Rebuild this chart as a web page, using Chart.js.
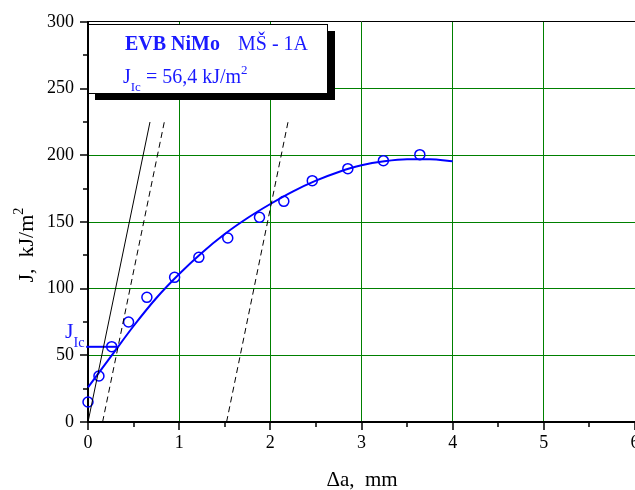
<!DOCTYPE html>
<html lang="sk">
<head>
    <meta charset="UTF-8">
    <title>J-R krivka</title>
    <script src="https://cdn.jsdelivr.net/npm/chart.js@4.4.1/dist/chart.umd.min.js"></script>
    <style>
        html, body {
            margin: 0;
            padding: 0;
            background: #fff;
        }

        .chart-container {
            width: 635px;
            height: 490px;
        }
    </style>
</head>
<body>
<div class="chart-container">
    <canvas id="canvas" width="635" height="490"></canvas>
</div>

<script>
    // meranie (body)
    var deltaA = [0, 0.12, 0.26, 0.445, 0.646, 0.95, 1.216, 1.533, 1.881, 2.148, 2.46, 2.85, 3.24, 3.64];
    var jValues = [15, 34.5, 56.5, 75, 93.5, 108.5, 123.5, 138, 153.5, 165.5, 181, 190, 196, 200.5];

    // preložená krivka
    var fitX = [0, 0.25, 0.5, 0.75, 1, 1.25, 1.5, 1.75, 2, 2.25, 2.5, 2.75, 3, 3.25, 3.5, 3.75, 4];
    var fitJ = [26, 49, 72, 93, 111, 127, 141, 153, 163.5, 173, 181, 187.5, 192.5, 195.5, 197, 197, 195.5];

    // blunting line a posunuté priamky
    var bluntX = [0, 0.68];
    var bluntJ = [0, 225];
    var offset1X = [0.16, 0.84];
    var offset1J = [0, 226];
    var offset2X = [1.52, 2.2];
    var offset2J = [0, 227];

    // J_Ic
    var jIcX = [-0.02, 0.31];
    var jIcJ = [56.4, 56.4];

    var xTicks = [0, 1, 2, 3, 4, 5, 6];
    var yTicks = [0, 50, 100, 150, 200, 250, 300];

    var BLUE = '#0000ff';
    var TEXT_BLUE = '#1a1aff';
    var GREEN = '#008000';
    var SERIF = '"Liberation Serif", "DejaVu Serif", serif';

    function pts(xs, ys) {
        return xs.map(function (x, i) {
            return {x: x, y: ys[i]};
        });
    }

    function lineSet(xs, ys, color, width, dash) {
        return {
            data: pts(xs, ys),
            showLine: true,
            borderColor: color,
            borderWidth: width,
            borderDash: dash || [],
            pointRadius: 0,
            fill: false,
            clip: false
        };
    }

    // text s indexom / exponentom
    function richText(ctx, parts, x, y, size, align) {
        var total = 0;
        parts.forEach(function (p) {
            var s = (p.sub || p.sup) ? size * 0.65 : size;
            ctx.font = (p.bold ? 'bold ' : '') + s + 'px ' + SERIF;
            p.w = ctx.measureText(p.t).width;
            total += p.w;
        });
        var cx = align === 'center' ? x - total / 2 : x;
        parts.forEach(function (p) {
            var s = (p.sub || p.sup) ? size * 0.65 : size;
            var dy = p.sub ? size * 0.42 : (p.sup ? -size * 0.45 : 0);
            ctx.font = (p.bold ? 'bold ' : '') + s + 'px ' + SERIF;
            ctx.fillText(p.t, cx, y + dy);
            cx += p.w;
        });
    }

    var extras = {
        id: 'extras',
        afterDraw: function (chart) {
            var ctx = chart.ctx;
            var xs = chart.scales.x, ys = chart.scales.y;
            var area = chart.chartArea;
            var v, p;
            ctx.save();

            // horny rám
            ctx.strokeStyle = '#000';
            ctx.lineWidth = 1;
            ctx.beginPath();
            ctx.moveTo(area.left, area.top - 0.5);
            ctx.lineTo(area.right, area.top - 0.5);
            ctx.stroke();

            // ryhy
            ctx.lineWidth = 1.5;
            ctx.beginPath();
            for (v = 0; v <= 300; v += 25) {
                p = Math.round(ys.getPixelForValue(v));
                ctx.moveTo(area.left, p);
                ctx.lineTo(area.left - (v % 50 === 0 ? 8 : 5), p);
            }
            for (v = 0; v <= 6; v += 0.5) {
                p = Math.round(xs.getPixelForValue(v));
                ctx.moveTo(p, area.bottom);
                ctx.lineTo(p, area.bottom + (v % 1 === 0 ? 8 : 5));
            }
            ctx.stroke();

            // legenda
            ctx.fillStyle = '#000';
            ctx.fillRect(95, 31, 240, 69);
            ctx.fillStyle = '#fff';
            ctx.fillRect(88, 24, 239, 69);
            ctx.strokeStyle = '#000';
            ctx.lineWidth = 1;
            ctx.strokeRect(88.5, 24.5, 239, 69);

            ctx.fillStyle = TEXT_BLUE;
            ctx.textAlign = 'left';
            ctx.textBaseline = 'alphabetic';
            richText(ctx, [{t: 'EVB NiMo', bold: true}], 125, 50, 20, 'left');
            richText(ctx, [{t: 'MŠ - 1A'}], 238, 50, 20, 'left');
            richText(ctx, [{t: 'J'}, {t: 'Ic', sub: true}, {t: ' = 56,4 kJ/m'}, {t: '2', sup: true}], 123, 83, 20, 'left');

            // J_Ic popis
            richText(ctx, [{t: 'J'}, {t: 'Ic', sub: true}], 65, 338, 22, 'left');

            // názvy osí
            ctx.fillStyle = '#000';
            richText(ctx, [{t: 'Δa,  mm'}], 362, 486, 21, 'center');
            ctx.translate(33, 245);
            ctx.rotate(-Math.PI / 2);
            richText(ctx, [{t: 'J,  kJ/m'}, {t: '2', sup: true}], 0, 0, 22, 'center');

            ctx.restore();
        }
    };

    window.onload = function () {
        var ctx = document.getElementById('canvas').getContext('2d');
        window.myChart = new Chart(ctx, {
            type: 'scatter',
            data: {
                datasets: [
                    lineSet(bluntX, bluntJ, '#000', 1),
                    lineSet(offset1X, offset1J, '#000', 1, [6, 4]),
                    lineSet(offset2X, offset2J, '#000', 1, [6, 4]),
                    Object.assign(lineSet(fitX, fitJ, BLUE, 2), {cubicInterpolationMode: 'monotone'}),
                    lineSet(jIcX, jIcJ, BLUE, 2),
                    {
                        data: pts(deltaA, jValues),
                        showLine: false,
                        pointStyle: 'circle',
                        pointRadius: 5,
                        pointBorderWidth: 1.5,
                        pointBorderColor: BLUE,
                        pointBackgroundColor: 'rgba(0,0,0,0)',
                        clip: false
                    }
                ]
            },
            options: {
                responsive: false,
                animation: false,
                events: [],
                layout: {
                    autoPadding: false,
                    padding: {top: 22, right: 0, bottom: 0, left: 0}
                },
                plugins: {
                    legend: {display: false},
                    tooltip: {enabled: false}
                },
                scales: {
                    x: {
                        type: 'linear',
                        min: 0,
                        max: 6,
                        afterBuildTicks: function (scale) {
                            scale.ticks = xTicks.map(function (v) {
                                return {value: v};
                            });
                        },
                        afterFit: function (scale) {
                            scale.height = 68;
                            scale.paddingLeft = 0;
                            scale.paddingRight = 0;
                        },
                        ticks: {
                            color: '#000',
                            padding: 10,
                            maxRotation: 0,
                            autoSkip: false,
                            font: {family: SERIF, size: 18}
                        },
                        grid: {
                            drawTicks: false,
                            lineWidth: 1,
                            color: function (c) {
                                return c.tick && (c.tick.value === 0 || c.tick.value === 6) ? 'rgba(0,0,0,0)' : GREEN;
                            }
                        },
                        border: {display: true, color: '#000', width: 2}
                    },
                    y: {
                        type: 'linear',
                        min: 0,
                        max: 300,
                        afterBuildTicks: function (scale) {
                            scale.ticks = yTicks.map(function (v) {
                                return {value: v};
                            });
                        },
                        afterFit: function (scale) {
                            scale.width = 88;
                            scale.paddingTop = 0;
                            scale.paddingBottom = 0;
                        },
                        ticks: {
                            color: '#000',
                            padding: 14,
                            autoSkip: false,
                            font: {family: SERIF, size: 18}
                        },
                        grid: {
                            drawTicks: false,
                            lineWidth: 1,
                            color: function (c) {
                                return c.tick && (c.tick.value === 0 || c.tick.value === 300) ? 'rgba(0,0,0,0)' : GREEN;
                            }
                        },
                        border: {display: true, color: '#000', width: 2}
                    }
                }
            },
            plugins: [extras]
        });
    };
</script>
</body>
</html>
